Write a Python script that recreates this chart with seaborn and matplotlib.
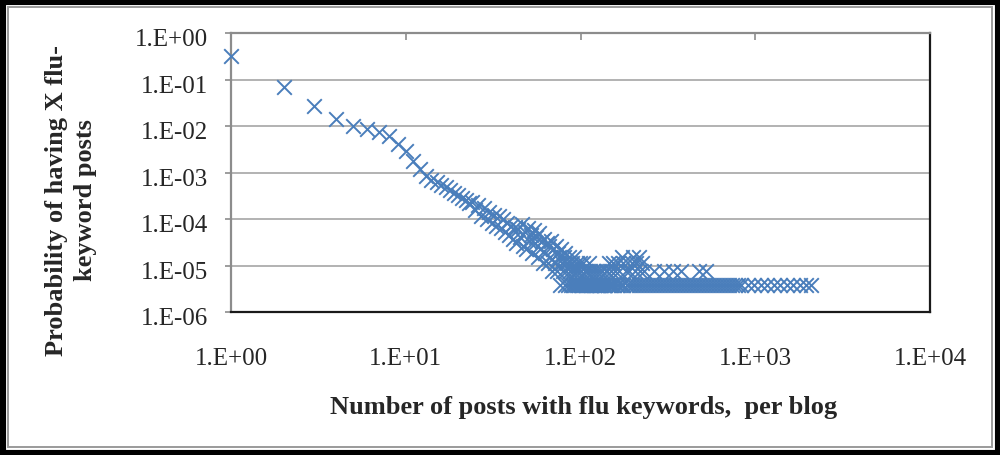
import pandas as pd
import matplotlib
matplotlib.use("Agg")
import matplotlib.pyplot as plt
import matplotlib.transforms as mtransforms
import seaborn as sns

from matplotlib.patches import Rectangle
from matplotlib.ticker import FixedLocator, NullLocator

# ==========================================
# DATA
# ==========================================

# lowest level on the plot = one blog
N_BLOGS = 265000

# first points, read as probabilities
head_posts = [1, 2, 3, 4, 5, 6, 7, 8, 9, 10, 11, 12, 13]
head_prob = [0.32, 0.069, 0.027, 0.014, 0.0100, 0.0087, 0.0074,
             0.0061, 0.0041, 0.0029, 0.0018, 0.0012, 0.00085]

# blogs having X = 14, 15, ... 140 flu posts (0 = no point)
mid_first = 14
mid_counts = [
    185, 165, 142, 128, 110, 97, 88, 75, 68, 58,
    60, 41, 52, 31, 45, 27, 38, 22, 33, 19, 30, 17, 26, 14, 22, 12, 19,
    10, 18, 8, 16, 11, 21, 7, 14, 6, 17, 9, 12, 5, 15, 8, 11, 4, 13, 6, 9,
    3, 10, 5, 8, 3, 7, 4, 9, 2, 6,
    3, 7, 2, 5, 4, 1, 6, 3, 2, 4, 1, 5, 2, 3, 1, 4, 2, 1, 3, 2, 1, 4, 1,
    2, 3, 1, 2, 1, 3, 1,
    2, 1, 3, 1, 0, 2, 1, 1, 2, 0, 1, 3, 1, 2, 1, 0, 1, 2, 1, 1, 0, 2, 1,
    1, 0, 1, 1, 2, 0, 1, 1, 0, 2, 1, 0, 1, 1, 0, 1, 2,
]

# tail: post counts held by one, two, three and four blogs
tail_one = [143, 147, 150, 152, 156, 161, 164, 170, 176, 184, 191, 199,
            207, 215, 224, 233, 242, 252, 262, 273, 284, 295, 307, 319,
            332, 346, 360, 374, 389, 405, 421, 438, 456, 475, 494, 514,
            534, 556, 578, 602, 626, 651, 678, 705, 733, 763, 794, 826,
            906, 980, 1076, 1164, 1277, 1381, 1516, 1640, 1799, 1946, 2080]
tail_two = [142, 149, 158, 166, 181, 189, 204, 218, 231, 262, 299, 337,
            374, 474, 520]
tail_three = [145, 154, 163, 176, 196, 208, 226]
tail_four = [172, 199, 215]

x_ticks = [1, 10, 100, 1000, 10000]
x_tick_labels = ["1.E+00", "1.E+01", "1.E+02", "1.E+03", "1.E+04"]
y_ticks = [1, 1e-1, 1e-2, 1e-3, 1e-4, 1e-5, 1e-6]
y_tick_labels = ["1.E+00", "1.E-01", "1.E-02", "1.E-03",
                 "1.E-04", "1.E-05", "1.E-06"]

x_label = "Number of posts with flu keywords,  per blog"
y_label = "Probability of having X flu-\nkeyword posts"

# ==========================================
# TABLE
# ==========================================

head_df = pd.DataFrame({"posts": head_posts, "prob": head_prob})

mid_df = pd.DataFrame({
    "posts": range(mid_first, mid_first + len(mid_counts)),
    "blogs": mid_counts
})
tail_df = pd.concat([
    pd.DataFrame({"posts": tail_one, "blogs": 1}),
    pd.DataFrame({"posts": tail_two, "blogs": 2}),
    pd.DataFrame({"posts": tail_three, "blogs": 3}),
    pd.DataFrame({"posts": tail_four, "blogs": 4}),
])
counts_df = pd.concat([mid_df, tail_df])
counts_df = counts_df[counts_df["blogs"] > 0]
counts_df["prob"] = counts_df["blogs"] / N_BLOGS

df = pd.concat([head_df, counts_df[["posts", "prob"]]], ignore_index=True)

# ==========================================
# PLOT
# ==========================================

sns.set_style("white")
plt.rcParams["font.family"] = ["Liberation Serif", "DejaVu Serif"]

fig = plt.figure(figsize=(10, 4.56), dpi=100)
ax = fig.add_axes([0.231, 1 - 313 / 456, 0.699, (313 - 34) / 456])

sns.scatterplot(
    data=df,
    x="posts",
    y="prob",
    marker="x",
    color="#4a7ebb",
    s=110,
    linewidth=1.4,
    legend=False,
    clip_on=False,
    zorder=3,
    ax=ax
)

ax.set_xscale("log")
ax.set_yscale("log")
ax.set_xlim(1, 1e4)
ax.set_ylim(1e-6, 1)

ax.xaxis.set_major_locator(FixedLocator(x_ticks))
ax.xaxis.set_minor_locator(NullLocator())
ax.yaxis.set_major_locator(FixedLocator(y_ticks))
ax.yaxis.set_minor_locator(NullLocator())
ax.set_xticklabels(x_tick_labels)
ax.set_yticklabels(y_tick_labels)

ax.tick_params(axis="x", direction="in", top=True, bottom=False,
               labeltop=False, labelbottom=True, length=5, width=1.2,
               color="#8c8c8c", pad=25, labelsize=18)
ax.tick_params(axis="y", direction="out", left=True, length=4.5,
               width=1.2, color="#8c8c8c", pad=12, labelsize=18)

# Excel draws the axis numbers a bit low
shift = mtransforms.ScaledTranslation(0, -4 / 100, fig.dpi_scale_trans)
for lbl in ax.get_yticklabels():
    lbl.set_transform(lbl.get_transform() + shift)

ax.yaxis.grid(True, color="#a6a6a6", linewidth=1.2)
ax.xaxis.grid(False)

for side in ["left", "top"]:
    ax.spines[side].set_color("#8c8c8c")
    ax.spines[side].set_linewidth(1.6)
for side in ["right", "bottom"]:
    ax.spines[side].set_color("#1a1a1a")
    ax.spines[side].set_linewidth(1.6)

ax.set_xlabel("")
ax.set_ylabel("")

fig.text(0.584, 1 - 408 / 456, x_label, ha="center", va="center",
         fontsize=19, fontweight="bold")
fig.text(0.071, 1 - 200 / 456, y_label, ha="center", va="center",
         rotation=90, fontsize=19, fontweight="bold", linespacing=1.3)

# picture frame
fig.add_artist(Rectangle((0, 0), 1, 1, transform=fig.transFigure,
                         fill=False, edgecolor="black", linewidth=8))
fig.add_artist(Rectangle((8 / 1000, 8 / 456), 1 - 16 / 1000, 1 - 16 / 456,
                         transform=fig.transFigure, fill=False,
                         edgecolor="#9a9a9a", linewidth=1.4))

fig.savefig("out.png", dpi=100)
plt.close()
